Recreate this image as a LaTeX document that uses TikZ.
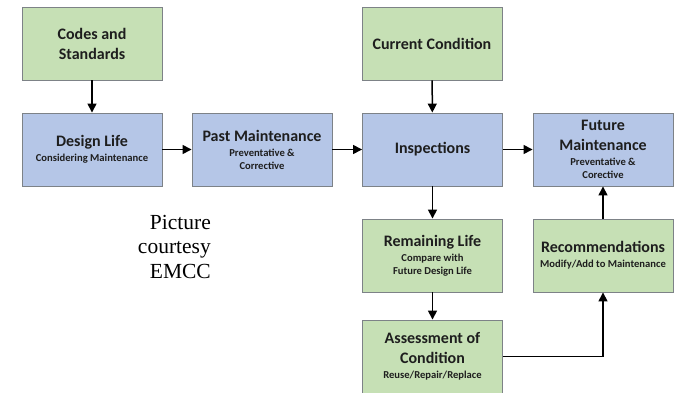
\documentclass[tikz,border=0pt]{standalone}
\usepackage{fontspec}
\setmainfont{Carlito}
\newfontfamily\creditfont{Liberation Serif}
\usetikzlibrary{arrows.meta}

\definecolor{boxgreen}{RGB}{198,224,181}
\definecolor{boxblue}{RGB}{181,198,231}
\definecolor{boxedge}{RGB}{125,130,135}
\definecolor{boxtext}{RGB}{30,30,30}

\tikzset{
  box/.style={draw=boxedge, line width=0.9pt, minimum width=140pt, minimum height=73pt,
              inner sep=2pt, align=center, text=boxtext,
              font=\bfseries\fontsize{16}{20}\selectfont},
  greenbox/.style={box, fill=boxgreen},
  bluebox/.style={box, fill=boxblue},
  flow/.style={-{Triangle[length=9pt,width=9pt]}, line width=1.5pt},
}
% small second line inside a box
\newcommand{\detail}[1]{{\fontsize{10.6}{13}\selectfont #1}}

\begin{document}
\begin{tikzpicture}[x=1pt, y=-1pt]
    \useasboundingbox (0,0) rectangle (677,393);
    \clip (0,0) rectangle (677,393);

    % top row
    \node[greenbox] (codes) at (92,43.5) {Codes and\\Standards};
    \node[greenbox] (current) at (432,43.5) {Current Condition};

    % middle row
    \node[bluebox] (design) at (92,149.5) {Design Life\\[-5pt]\detail{Considering Maintenance}};
    \node[bluebox] (past) at (262,149.5) {Past Maintenance\\[-5pt]\detail{Preventative \&}\\[-7pt]\detail{Corrective}};
    \node[bluebox] (insp) at (432.5,149.5) {Inspections};
    \node[bluebox] (future) at (603,149.5) {Future\\Maintenance\\[-5pt]\detail{Preventative \&}\\[-7pt]\detail{Corective}};

    % lower rows
    \node[greenbox] (remain) at (432.5,255.5) {Remaining Life\\[-5pt]\detail{Compare with}\\[-7pt]\detail{Future Design Life}};
    \node[greenbox] (recom) at (603,255.5) {Recommendations\\[-5pt]\detail{Modify/Add to Maintenance}};
    \node[greenbox] (assess) at (432.5,356.5) {Assessment of\\Condition\\[-5pt]\detail{Reuse/Repair/Replace}};

    % credit
    \node[anchor=north east, align=right, inner sep=0pt, font=\creditfont\fontsize{21.5}{24.5}\selectfont]
        (credit) at (211,215) {Picture\\courtesy\\EMCC};

    % connectors
    \draw[flow] (codes) -- (design);
    \draw[flow] (design) -- (past);
    \draw[flow] (past) -- (insp);
    \draw[flow] (current) -- (insp);
    \draw[flow] (insp) -- (future);
    \draw[flow] (insp) -- (remain);
    \draw[flow] (remain) -- (assess);
    \draw[flow] (assess.east) -| (recom.south);
    \draw[flow] (recom) -- (future);
\end{tikzpicture}
\end{document}
